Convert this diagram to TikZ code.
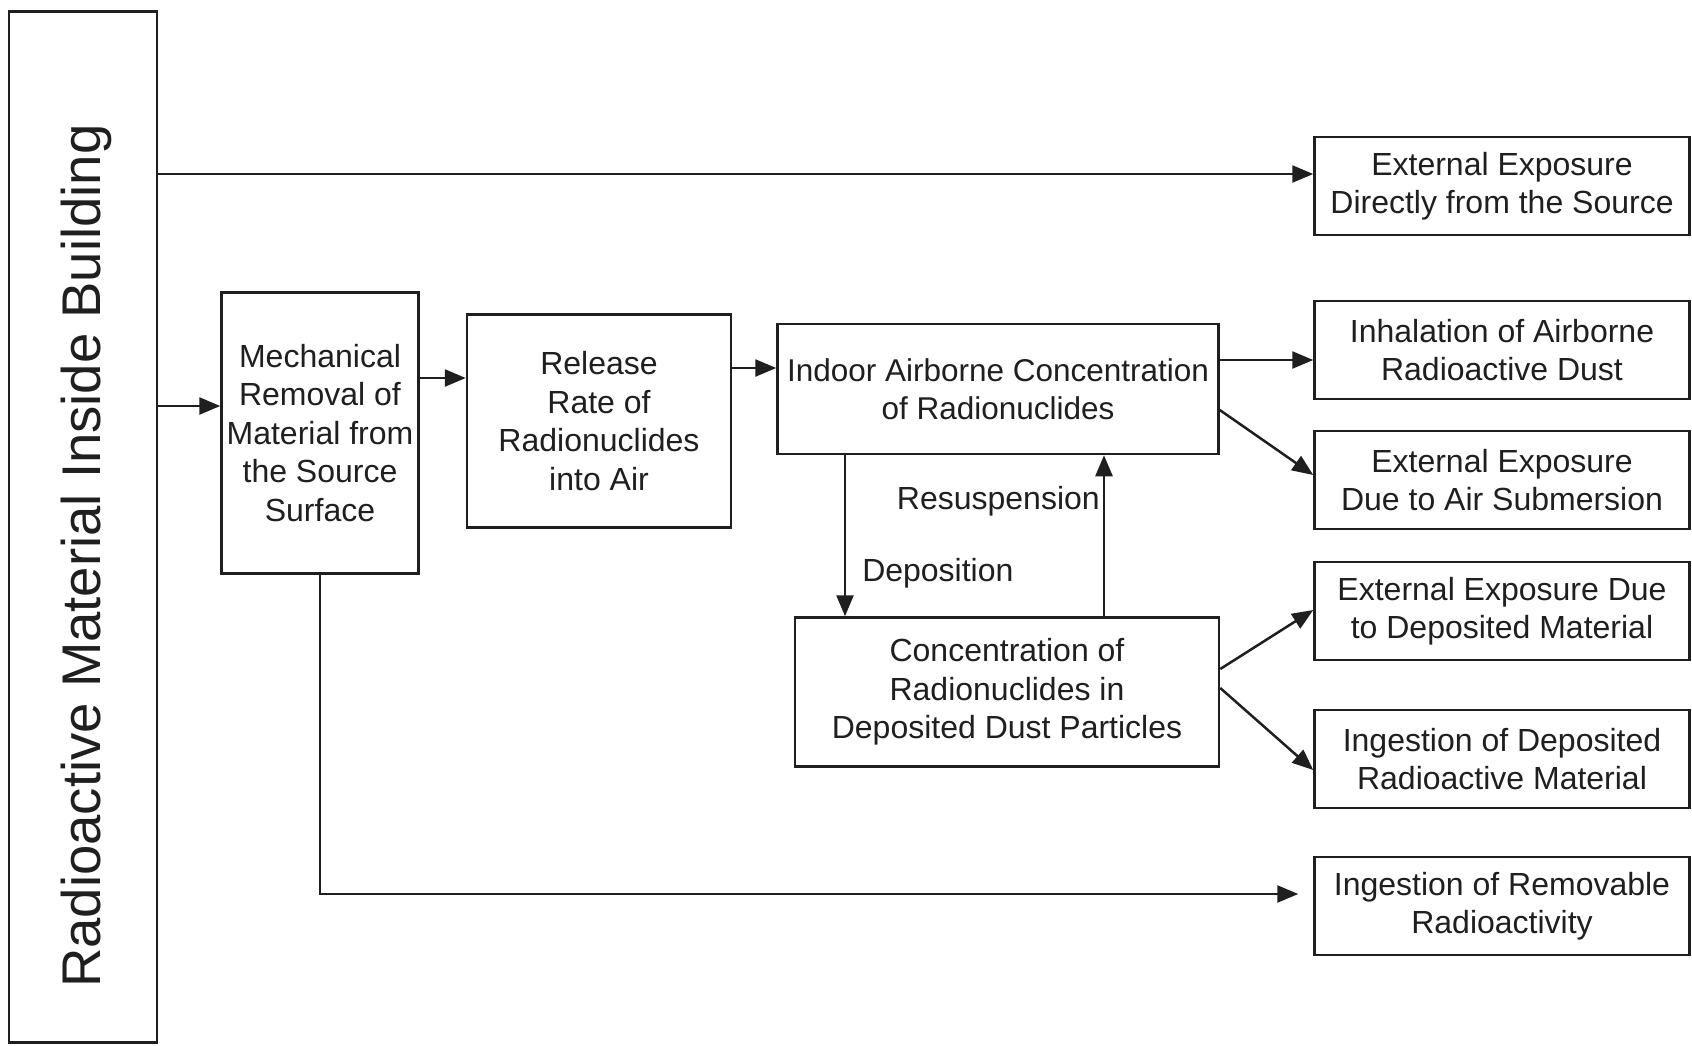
\documentclass[tikz,border=0pt]{standalone}
\usepackage{fontspec}
\setmainfont{Liberation Sans}
\usetikzlibrary{arrows.meta}
\begin{document}
\begin{tikzpicture}[x=1pt,y=-1pt,
  line width=2.5pt, color=black!88,
  box/.style={draw, inner sep=0pt, align=center, font=\fontsize{32}{38.5}\selectfont},
  rbox/.style={box, minimum width=375pt, minimum height=98pt},
  arr/.style={-{Triangle[length=21pt,width=17pt]}},
  lbl/.style={inner sep=0pt, font=\fontsize{32}{38.5}\selectfont}]
\useasboundingbox[fill=white] (0,0) rectangle (1692,1045);
% source column
\node[draw, inner sep=0pt, minimum width=148pt, minimum height=1031pt] (src) at (83,527) {};
\node[lbl, rotate=90, font=\fontsize{54.5}{60}\selectfont] (srclbl) at (86,556) {Radioactive Material Inside Building};
% middle boxes
\node[box, minimum width=197pt, minimum height=281pt] (mech) at (320,433)
  {Mechanical\\Removal of\\Material from\\the Source\\Surface};
\node[box, minimum width=264pt, minimum height=213pt] (rel) at (599,421)
  {Release\\Rate of\\Radionuclides\\into Air};
\node[box, font=\fontsize{31.5}{38.5}\selectfont, minimum width=441pt, minimum height=130pt] (indoor) at (998,389)
  {Indoor Airborne Concentration\\of Radionuclides};
\node[box, minimum width=424pt, minimum height=149pt] (conc) at (1007,692)
  {Concentration of\\Radionuclides in\\Deposited Dust Particles};
% right boxes
\node[rbox] (extsrc) at (1502,186) {External Exposure\\Directly from the Source};
\node[rbox] (inhal) at (1502,350) {Inhalation of Airborne\\Radioactive Dust};
\node[rbox] (extair) at (1502,480) {External Exposure\\Due to Air Submersion};
\node[rbox] (extdep) at (1502,611) {External Exposure Due\\to Deposited Material};
\node[rbox] (ingdep) at (1502,759) {Ingestion of Deposited\\Radioactive Material};
\node[rbox] (ingrem) at (1502,906) {Ingestion of Removable\\Radioactivity};
% labels
\node[lbl, anchor=west] (deplbl) at (861,573) {Deposition};
\node[lbl, anchor=east] (reslbl) at (1101,501) {Resuspension};
% connectors
\draw[arr] (src.east |- 0,174) -- (extsrc.west |- 0,174);
\draw[arr] (src.east |- 0,406) -- (mech.west |- 0,406);
\draw[arr] (mech.east |- 0,378) -- (rel.west |- 0,378);
\draw[arr] (rel.east |- 0,368) -- (indoor.west |- 0,368);
\draw[arr] (indoor.east |- 0,360) -- (inhal.west |- 0,360);
\draw[arr] (indoor.east |- 0,410) -- (extair.west |- 0,475);
\draw[arr] (conc.east |- 0,669) -- (extdep.west |- 0,610);
\draw[arr] (conc.east |- 0,688) -- (ingdep.west |- 0,770);
\draw[arr] (845,0 |- indoor.south) -- (845,0 |- conc.north);
\draw[arr] (1104,0 |- conc.north) -- (1104,0 |- indoor.south);
\draw[arr, shorten >=15pt] (mech.south) -- (mech.south |- 0,894) -- (ingrem.west |- 0,894);
\end{tikzpicture}
\end{document}
